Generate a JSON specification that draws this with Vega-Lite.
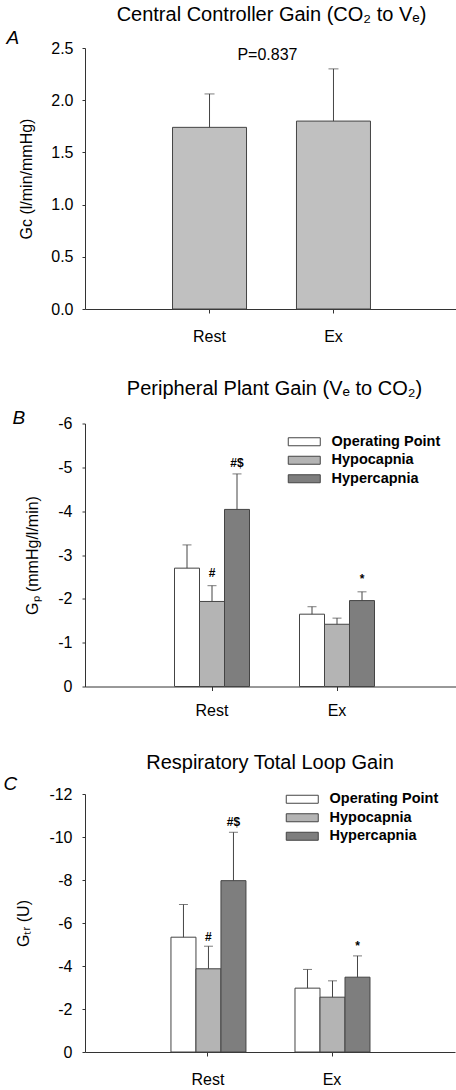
{
  "$schema": "https://vega.github.io/schema/vega-lite/v6.json",
  "padding": {"left": 3, "top": 5, "right": 0, "bottom": 0},
  "spacing": 34.5,
  "align": "none",
  "resolve": {"scale": {"fill": "independent"}, "legend": {"fill": "independent"}},
  "config": {
    "font": "Liberation Sans",
    "view": {"stroke": null},
    "axis": {"domainColor": "#333", "tickColor": "#333", "labelColor": "#000", "titleColor": "#000", "labelFontSize": 16, "titleFontSize": 16, "titleFontWeight": "normal", "grid": false, "tickSize": 4, "labelFont": "Liberation Sans", "titleFont": "Liberation Sans"},
    "title": {"fontSize": 20, "fontWeight": "normal", "color": "#000", "font": "Liberation Sans"},
    "legend": {"padding": 0}
  },
  "datasets": {
    "a": [
      {"cond": "Rest", "mean": 1.74, "err": 2.06},
      {"cond": "Ex", "mean": 1.80, "err": 2.30}
    ],
    "b": [
      {"cond": "Rest", "state": "Operating Point", "mean": -2.70, "err": -3.23},
      {"cond": "Rest", "state": "Hypocapnia", "mean": -1.94, "err": -2.30},
      {"cond": "Rest", "state": "Hypercapnia", "mean": -4.04, "err": -4.85},
      {"cond": "Ex", "state": "Operating Point", "mean": -1.65, "err": -1.82},
      {"cond": "Ex", "state": "Hypocapnia", "mean": -1.42, "err": -1.56},
      {"cond": "Ex", "state": "Hypercapnia", "mean": -1.96, "err": -2.16}
    ],
    "bnotes": [
      {"cond": "Rest", "state": "Hypocapnia", "note": "#", "y": -2.58},
      {"cond": "Rest", "state": "Hypercapnia", "note": "#$", "y": -5.09},
      {"cond": "Ex", "state": "Hypercapnia", "note": "*", "y": -2.45}
    ],
    "c": [
      {"cond": "Rest", "state": "Operating Point", "mean": -5.34, "err": -6.86},
      {"cond": "Rest", "state": "Hypocapnia", "mean": -3.87, "err": -4.92},
      {"cond": "Rest", "state": "Hypercapnia", "mean": -7.97, "err": -10.22},
      {"cond": "Ex", "state": "Operating Point", "mean": -2.97, "err": -3.84},
      {"cond": "Ex", "state": "Hypocapnia", "mean": -2.55, "err": -3.31},
      {"cond": "Ex", "state": "Hypercapnia", "mean": -3.48, "err": -4.47}
    ],
    "cnotes": [
      {"cond": "Rest", "state": "Hypocapnia", "note": "#", "y": -5.34},
      {"cond": "Rest", "state": "Hypercapnia", "note": "#$", "y": -10.68},
      {"cond": "Ex", "state": "Hypercapnia", "note": "*", "y": -4.95}
    ]
  },
  "vconcat": [
    {
      "title": {"text": "Central Controller Gain (CO₂ to Vₑ)", "anchor": "middle", "frame": "group", "offset": -13, "baseline": "alphabetic"},
      "width": 373,
      "height": 261,
      "data": {"name": "a"},
      "resolve": {"axis": {"x": "independent"}},
      "layer": [
        {
          "mark": {"type": "bar", "fill": "#c0c0c0", "stroke": "#444", "strokeWidth": 1},
          "encoding": {
            "x": {"field": "cond", "type": "nominal", "sort": ["Rest", "Ex"], "scale": {"paddingInner": 0.403, "paddingOuter": 0.706},
                  "axis": {"orient": "bottom", "title": null, "labelAngle": 0, "labelPadding": 15, "tickSize": 4}},
            "y": {"field": "mean", "type": "quantitative", "scale": {"domain": [0, 2.5], "nice": false},
                  "axis": {"title": "Gᴄ (l/min/mmHg)", "values": [0, 0.5, 1, 1.5, 2, 2.5], "format": ".1f", "tickSize": 3, "labelPadding": 9, "titlePadding": 15.8}}
          }
        },
        {
          "mark": {"type": "rule", "color": "#444"},
          "encoding": {
            "x": {"field": "cond", "type": "nominal", "sort": ["Rest", "Ex"], "axis": null},
            "y": {"field": "mean", "type": "quantitative"}, "y2": {"field": "err"}
          }
        },
        {
          "mark": {"type": "tick", "color": "#444", "thickness": 1, "size": 10},
          "encoding": {
            "x": {"field": "cond", "type": "nominal", "sort": ["Rest", "Ex"],
                  "axis": {"orient": "top", "title": "A", "domain": false, "ticks": false, "labels": false, "labelPadding": 0, "titleAngle": 0, "titleAlign": "left", "titleBaseline": "alphabetic", "titleFontStyle": "italic", "titleFontSize": 19, "titleX": -79, "titleY": -5}},
            "y": {"field": "err", "type": "quantitative"}
          }
        },
        {
          "data": {"values": [{"label": "P=0.837", "y": 2.43}]},
          "mark": {"type": "text", "fontSize": 16, "dx": -29, "baseline": "middle"},
          "encoding": {
            "x": {"datum": "Ex", "bandPosition": 0, "axis": null},
            "y": {"field": "y", "type": "quantitative"},
            "text": {"field": "label"}
          }
        }
      ]
    },
    {
      "title": {"text": "Peripheral Plant Gain (Vₑ to CO₂)", "anchor": "middle", "frame": "group", "offset": -6, "baseline": "alphabetic"},
      "width": 379,
      "height": 263,
      "data": {"name": "b"},
      "resolve": {"axis": {"x": "independent"}},
      "encoding": {
        "xOffset": {"field": "state", "type": "nominal", "sort": ["Operating Point", "Hypocapnia", "Hypercapnia"], "scale": {"paddingInner": 0, "paddingOuter": 0}}
      },
      "layer": [
        {
          "mark": {"type": "bar", "stroke": "#444", "strokeWidth": 1},
          "encoding": {
            "x": {"field": "cond", "type": "nominal", "sort": ["Rest", "Ex"], "scale": {"paddingInner": 0.4, "paddingOuter": 0.716},
                  "axis": {"orient": "bottom", "title": null, "labelAngle": 0, "labelPadding": 12, "tickSize": 4}},
            "y": {"field": "mean", "type": "quantitative", "stack": null, "scale": {"domain": [0, -6], "nice": false},
                  "axis": {"title": "Gₚ (mmHg/l/min)", "values": [0, -1, -2, -3, -4, -5, -6], "labelExpr": "datum.value == 0 ? '0' : '-' + abs(datum.value)", "tickSize": 3, "labelPadding": 10, "titlePadding": 16.8}},
            "fill": {"field": "state", "type": "nominal",
                     "scale": {"domain": ["Operating Point", "Hypocapnia", "Hypercapnia"], "range": ["#ffffff", "#b4b4b4", "#7e7e7e"]},
                     "legend": {"title": null, "orient": "none", "legendX": 212, "legendY": 11, "symbolType": "M-4,-1H4V1H-4Z", "symbolSize": 64, "symbolStrokeColor": "#444", "symbolStrokeWidth": 1, "labelFontSize": 14.5, "labelFontWeight": "bold", "labelOffset": 20, "rowPadding": 3.5, "labelColor": "#000"}}
          }
        },
        {
          "mark": {"type": "rule", "color": "#444"},
          "encoding": {
            "x": {"field": "cond", "type": "nominal", "sort": ["Rest", "Ex"], "axis": null},
            "y": {"field": "mean", "type": "quantitative"}, "y2": {"field": "err"}
          }
        },
        {
          "mark": {"type": "tick", "color": "#444", "thickness": 1, "size": 9},
          "encoding": {
            "x": {"field": "cond", "type": "nominal", "sort": ["Rest", "Ex"],
                  "axis": {"orient": "top", "title": "B", "domain": false, "ticks": false, "labels": false, "labelPadding": 0, "titleAngle": 0, "titleAlign": "left", "titleBaseline": "alphabetic", "titleFontStyle": "italic", "titleFontSize": 19, "titleX": -73, "titleY": 0}},
            "y": {"field": "err", "type": "quantitative"}
          }
        },
        {
          "data": {"name": "bnotes"},
          "mark": {"type": "text", "fontSize": 12, "fontWeight": "bold", "baseline": "middle"},
          "encoding": {
            "x": {"field": "cond", "type": "nominal", "sort": ["Rest", "Ex"], "axis": null},
            "y": {"field": "y", "type": "quantitative"},
            "text": {"field": "note"}
          }
        }
      ]
    },
    {
      "title": {"text": "Respiratory Total Loop Gain", "anchor": "middle", "frame": "group", "offset": -15, "baseline": "alphabetic"},
      "width": 370,
      "height": 258,
      "data": {"name": "c"},
      "resolve": {"axis": {"x": "independent"}},
      "encoding": {
        "xOffset": {"field": "state", "type": "nominal", "sort": ["Operating Point", "Hypocapnia", "Hypercapnia"], "scale": {"paddingInner": 0, "paddingOuter": 0}}
      },
      "layer": [
        {
          "mark": {"type": "bar", "stroke": "#444", "strokeWidth": 1},
          "encoding": {
            "x": {"field": "cond", "type": "nominal", "sort": ["Rest", "Ex"], "scale": {"paddingInner": 0.403, "paddingOuter": 0.693},
                  "axis": {"orient": "bottom", "title": null, "labelAngle": 0, "labelPadding": 15, "tickSize": 4}},
            "y": {"field": "mean", "type": "quantitative", "stack": null, "scale": {"domain": [0, -12], "nice": false},
                  "axis": {"title": "Gₜᵣ (U)", "values": [0, -2, -4, -6, -8, -10, -12], "labelExpr": "datum.value == 0 ? '0' : '-' + abs(datum.value)", "tickSize": 3, "labelPadding": 10, "titlePadding": 16.9}},
            "fill": {"field": "state", "type": "nominal",
                     "scale": {"domain": ["Operating Point", "Hypocapnia", "Hypercapnia"], "range": ["#ffffff", "#b4b4b4", "#7e7e7e"]},
                     "legend": {"title": null, "orient": "none", "legendX": 210, "legendY": -2, "symbolType": "M-4,-1H4V1H-4Z", "symbolSize": 64, "symbolStrokeColor": "#444", "symbolStrokeWidth": 1, "labelFontSize": 14.5, "labelFontWeight": "bold", "labelOffset": 20, "rowPadding": 3.5, "labelColor": "#000"}}
          }
        },
        {
          "mark": {"type": "rule", "color": "#444"},
          "encoding": {
            "x": {"field": "cond", "type": "nominal", "sort": ["Rest", "Ex"], "axis": null},
            "y": {"field": "mean", "type": "quantitative"}, "y2": {"field": "err"}
          }
        },
        {
          "mark": {"type": "tick", "color": "#444", "thickness": 1, "size": 9},
          "encoding": {
            "x": {"field": "cond", "type": "nominal", "sort": ["Rest", "Ex"],
                  "axis": {"orient": "top", "title": "C", "domain": false, "ticks": false, "labels": false, "labelPadding": 0, "titleAngle": 0, "titleAlign": "left", "titleBaseline": "alphabetic", "titleFontStyle": "italic", "titleFontSize": 19, "titleX": -82, "titleY": -5}},
            "y": {"field": "err", "type": "quantitative"}
          }
        },
        {
          "data": {"name": "cnotes"},
          "mark": {"type": "text", "fontSize": 12, "fontWeight": "bold", "baseline": "middle"},
          "encoding": {
            "x": {"field": "cond", "type": "nominal", "sort": ["Rest", "Ex"], "axis": null},
            "y": {"field": "y", "type": "quantitative"},
            "text": {"field": "note"}
          }
        }
      ]
    }
  ]
}
